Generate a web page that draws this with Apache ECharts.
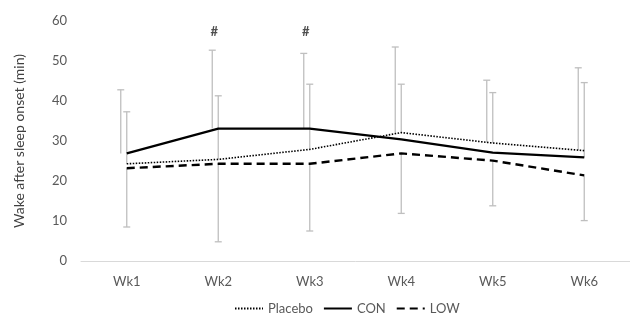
<!DOCTYPE html>
<html lang="en">
<head>
    <meta charset="UTF-8">
    <title>Wake after sleep onset</title>
    <script src="https://cdn.jsdelivr.net/npm/echarts@6/dist/echarts.min.js"></script>
</head>
<body style="margin: 0; background: #fff">
<div id="chart" style="width: 630px; height: 323px"></div>
<script>
    // weeks and group means
    let weeks = ['Wk1', 'Wk2', 'Wk3', 'Wk4', 'Wk5', 'Wk6'];
    let placebo = [24.3, 25.4, 27.9, 32.1, 29.5, 27.6];
    let con = [26.9, 33.1, 33.1, 30.4, 27.1, 25.9];
    let low = [23.2, 24.3, 24.3, 26.9, 25.1, 21.4];

    // error bars as drawn: left bar (just left of the week) and right bar (upper + lower part)
    let leftFrom = [26.9, 33.1, 33.1, 31.9, 29.6, 27.7];
    let leftTo = [42.8, 52.7, 51.9, 53.5, 45.2, 48.3];
    let rightUpFrom = [24.3, 25.4, 27.9, 32.1, 29.5, 25.9];
    let rightUpTo = [37.3, 41.3, 44.2, 44.2, 42.1, 44.6];
    let rightDownFrom = [23.2, 24.3, 24.3, 26.9, 25.1, 21.4];
    let rightDownTo = [8.5, 4.8, 7.5, 11.9, 13.8, 10.1];

    // significance marks
    let sigWeeks = ['Wk2', 'Wk3'];
    let sigY = 57.3;

    let font = 'Lato, "Open Sans", sans-serif';
    let grey = '#595959';

    let barData = [];
    for (let i = 0; i < weeks.length; i++) {
        barData.push([i, leftFrom[i], leftTo[i], -6]);
        barData.push([i, rightUpFrom[i], rightUpTo[i], 0]);
        barData.push([i, rightDownFrom[i], rightDownTo[i], 0]);
    }

    function renderBar(params, api) {
        let a = api.coord([api.value(0), api.value(1)]);
        let b = api.coord([api.value(0), api.value(2)]);
        let x = a[0] + api.value(3);
        let cap = 3.5;
        let style = {stroke: '#bfbfbf', lineWidth: 1.3, fill: null};
        return {
            type: 'group',
            children: [
                {type: 'line', shape: {x1: x, y1: a[1], x2: x, y2: b[1]}, style: style},
                {type: 'line', shape: {x1: x - cap, y1: b[1], x2: x + cap, y2: b[1]}, style: style}
            ]
        };
    }

    let chart = echarts.init(document.getElementById('chart'));
    chart.setOption({
        animation: false,
        textStyle: {fontFamily: font},
        grid: {left: 81, top: 21, width: 552, bottom: 62},
        legend: {
            bottom: 3,
            left: 229,
            itemWidth: 28,
            itemHeight: 10,
            itemGap: 10,
            itemStyle: {opacity: 0},
            textStyle: {color: grey, fontSize: 13, fontFamily: font},
            data: ['Placebo', 'CON', 'LOW']
        },
        xAxis: {
            type: 'category',
            data: weeks,
            boundaryGap: true,
            axisLine: {lineStyle: {color: '#d9d9d9', width: 1}},
            axisTick: {show: false},
            axisLabel: {color: grey, fontSize: 13, margin: 14}
        },
        yAxis: {
            type: 'value',
            min: 0,
            max: 60,
            interval: 10,
            name: 'Wake after sleep onset (min)',
            nameLocation: 'middle',
            nameGap: 55,
            nameTextStyle: {color: '#404040', fontSize: 14},
            axisLine: {show: false},
            axisTick: {show: false},
            splitLine: {show: false},
            axisLabel: {color: grey, fontSize: 13, margin: 14}
        },
        series: [
            {
                name: 'errorbars',
                type: 'custom',
                renderItem: renderBar,
                data: barData,
                z: 1
            },
            {
                name: 'Placebo',
                type: 'line',
                data: placebo,
                symbol: 'none',
                lineStyle: {color: '#000', width: 1.6, type: [1.5, 1.5]},
                itemStyle: {color: '#000'},
                z: 3
            },
            {
                name: 'CON',
                type: 'line',
                data: con,
                symbol: 'none',
                lineStyle: {color: '#000', width: 2.2},
                itemStyle: {color: '#000'},
                z: 3
            },
            {
                name: 'LOW',
                type: 'line',
                data: low,
                symbol: 'none',
                lineStyle: {color: '#000', width: 2.4, type: [8, 5]},
                itemStyle: {color: '#000'},
                z: 3
            },
            {
                name: 'sig',
                type: 'scatter',
                symbolSize: 0,
                data: sigWeeks.map(w => [w, sigY]),
                label: {
                    show: true,
                    formatter: '#',
                    position: 'inside',
                    offset: [-4, 0],
                    color: '#222',
                    fontSize: 13,
                    fontWeight: 'bold'
                }
            }
        ]
    });
</script>
</body>
</html>
